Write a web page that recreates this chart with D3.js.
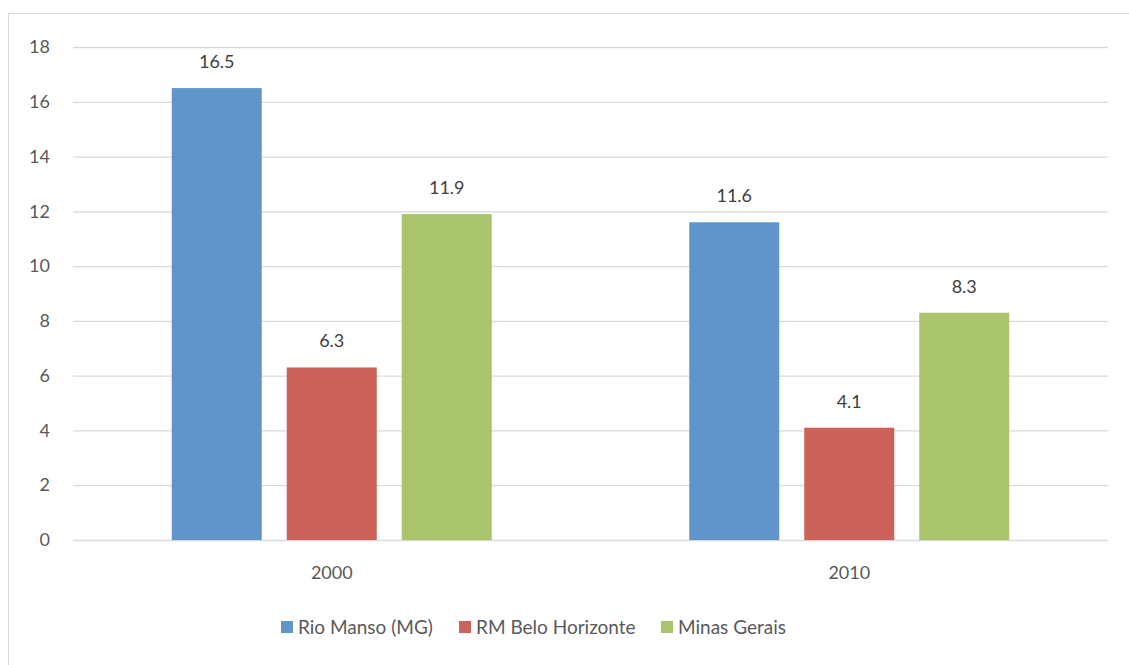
<!DOCTYPE html>
<html><head><meta charset="utf-8">
<script src="https://cdn.jsdelivr.net/npm/d3@7"></script>
<style>
body{margin:0;background:#fff;}
svg{display:block;font-family:Lato,"Open Sans",sans-serif;}
</style></head>
<body>
<svg id="c" width="1129" height="665"></svg>
<script>
const categories = ["2000", "2010"];
const seriesNames = ["Rio Manso (MG)", "RM Belo Horizonte", "Minas Gerais"];
const rioManso = [16.5, 11.6];
const rmBH = [6.3, 4.1];
const minasGerais = [11.9, 8.3];
const yTicks = [0, 2, 4, 6, 8, 10, 12, 14, 16, 18];
const colors = ["#5f95c9", "#cd625a", "#a9c46b"];

(function () {
const series = [rioManso, rmBH, minasGerais];
const svg = d3.select("#c");
const pL = 73, pR = 1108, pT = 47, pB = 540;
const fs = 18;

svg.append("rect").attr("x", 8.5).attr("y", 13.5).attr("width", 1130).attr("height", 700)
  .attr("fill", "none").attr("stroke", "#d9d9d9").attr("stroke-width", 1);

const x0 = d3.scaleBand().domain(categories).range([pL, pR]).paddingInner(0).paddingOuter(0);
const step = 115, bw = 90;
const x1 = d3.scaleBand().domain(seriesNames).range([0, step * 3 - (step - bw)]).paddingInner((step - bw) / step).paddingOuter(0);
const y = d3.scaleLinear().domain([0, 18]).range([pB, pT]);

const yAxis = d3.axisLeft(y).tickValues(yTicks).tickSize(-(pR - pL)).tickPadding(23);
const gy = svg.append("g").attr("transform", `translate(${pL},0)`).call(yAxis);
gy.select(".domain").remove();
gy.selectAll(".tick line").attr("stroke", "#d9d9d9").attr("stroke-width", 1.3);
gy.selectAll(".tick text").attr("fill", "#595959").attr("font-size", fs).attr("font-family", "Lato,'Open Sans',sans-serif");

const groupW = 3 * bw + 2 * (step - bw);
const groups = svg.append("g").selectAll("g").data(categories).join("g")
  .attr("transform", d => `translate(${x0(d) + x0.bandwidth() / 2 - groupW / 2},0)`);

seriesNames.forEach((s, si) => {
  groups.append("rect")
    .attr("x", x1(s)).attr("width", x1.bandwidth())
    .attr("y", (d, i) => y(series[si][i]))
    .attr("height", (d, i) => y(0) - y(series[si][i]))
    .attr("fill", colors[si]);
  groups.append("text")
    .attr("x", x1(s) + x1.bandwidth() / 2)
    .attr("y", (d, i) => y(series[si][i]) - 20)
    .attr("text-anchor", "middle").attr("font-size", fs).attr("fill", "#404040")
    .text((d, i) => series[si][i].toFixed(1));
});

const xAxis = d3.axisBottom(x0).tickSize(0).tickPadding(26);
const gx = svg.append("g").attr("transform", `translate(0,${pB})`).call(xAxis);
gx.select(".domain").remove();
gx.selectAll(".tick text").attr("fill", "#595959").attr("font-size", fs).attr("font-family", "Lato,'Open Sans',sans-serif");

const legX = [281, 459, 661];
const leg = svg.append("g").selectAll("g").data(seriesNames).join("g")
  .attr("transform", (d, i) => `translate(${legX[i]},621)`);
leg.append("rect").attr("width", 12).attr("height", 12).attr("fill", (d, i) => colors[i]);
leg.append("text").attr("x", 17).attr("y", 13).attr("font-size", fs + 1).attr("fill", "#595959").text(d => d);
})();
</script>
</body></html>
